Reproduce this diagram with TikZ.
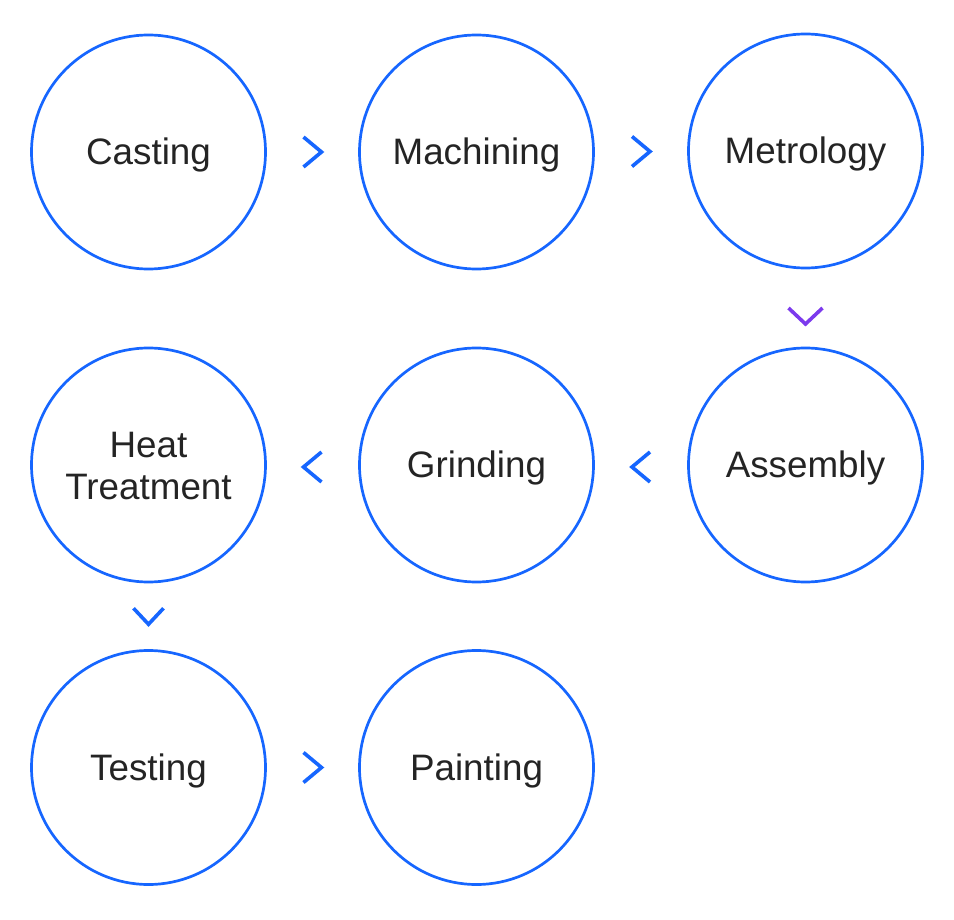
\documentclass[tikz,border=0pt]{standalone}
\usepackage{fontspec}
\setmainfont{Liberation Sans}
\usetikzlibrary{calc}
\definecolor{cblue}{RGB}{22,102,255}
\definecolor{cpurple}{RGB}{124,58,237}
\definecolor{ctext}{RGB}{36,36,36}
\newcommand{\lowtxt}[1]{\raisebox{-3pt}[\height][\depth]{#1}}
\begin{document}
\begin{tikzpicture}[x=1pt,y=-1pt,
  stage/.style={circle, draw=cblue, line width=2.7pt, minimum size=234pt, inner sep=0pt,
    text=ctext, font=\fontsize{36.8pt}{42pt}\selectfont, align=center},
  chev/.style={line width=3.6pt, cblue, line cap=butt, line join=miter},
  chevp/.style={line width=3.6pt, cpurple, line cap=butt, line join=miter}]
\useasboundingbox (0,0) rectangle (954,920);
\node[stage] (cast) at (148.5,152) {\lowtxt{Casting}};
\node[stage] (mach) at (476.5,152) {\lowtxt{Machining}};
\node[stage] (metr) at (805.5,151) {\lowtxt{Metrology}};
\node[stage] (asm)  at (805.5,465) {\lowtxt{Assembly}};
\node[stage] (grin) at (476.5,465) {\lowtxt{Grinding}};
\node[stage] (heat) at (148.5,465) {\raisebox{-1.5pt}[\height][\depth]{Heat}\\\raisebox{-1.5pt}[\height][\depth]{Treatment}};
\node[stage] (test) at (148.5,767.5) {\lowtxt{Testing}};
\node[stage] (pain) at (476.5,767.5) {\lowtxt{Painting}};
% chevrons
\coordinate (k1) at ($(cast)!0.5!(mach)$);
\coordinate (k2) at ($(mach)!0.5!(metr)$);
\coordinate (k3) at ($(metr.south)!0.5!(asm.north)+(0,8)$);
\coordinate (k4) at ($(asm)!0.5!(grin)+(0,2)$);
\coordinate (k5) at ($(grin)!0.5!(heat)+(0,2)$);
\coordinate (k6) at ($(heat.south)!0.5!(test.north)$);
\coordinate (k7) at ($(test)!0.5!(pain)$);
\draw[chev] ($(k1)+(-9,-15)$) -- ($(k1)+(9,0)$) -- ($(k1)+(-9,15)$);
\draw[chev] ($(k2)+(-9,-15)$) -- ($(k2)+(9,0)$) -- ($(k2)+(-9,15)$);
\draw[chevp] ($(k3)+(-17,-8)$) -- ($(k3)+(0,8)$) -- ($(k3)+(17,-8)$);
\draw[chev] ($(k4)+(9,-15)$) -- ($(k4)+(-9,0)$) -- ($(k4)+(9,15)$);
\draw[chev] ($(k5)+(9,-15)$) -- ($(k5)+(-9,0)$) -- ($(k5)+(9,15)$);
\draw[chev] ($(k6)+(-15,-8)$) -- ($(k6)+(0,8)$) -- ($(k6)+(15,-8)$);
\draw[chev] ($(k7)+(-9,-15)$) -- ($(k7)+(9,0)$) -- ($(k7)+(-9,15)$);
\end{tikzpicture}
\end{document}
